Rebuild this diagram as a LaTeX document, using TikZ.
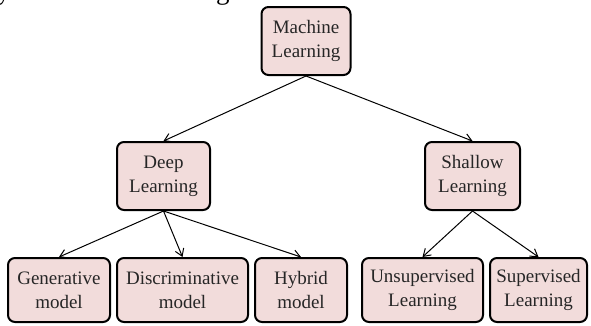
\documentclass[tikz,border=0pt]{standalone}
\usepackage{fontspec}
\setmainfont{Liberation Serif}
\usetikzlibrary{arrows.meta}
\definecolor{boxpink}{RGB}{242,220,219}

\begin{document}
\begin{tikzpicture}[line cap=round,line join=round,x=1pt,y=-1pt,
  mlbox/.style={draw=black,line width=2pt,fill=boxpink,rounded corners=7pt,
    align=center,inner sep=0pt,minimum height=68pt,
    font=\fontsize{19}{24}\selectfont,text=black!85},
  leafbox/.style={mlbox,minimum height=64pt},
  link/.style={line width=1pt,-{Straight Barb[length=7pt,width=9pt,line width=1pt]}}]
\useasboundingbox (0,0) rectangle (591,325);
\clip (0,0) rectangle (591,325);
\node[anchor=base west,inner sep=0pt,font=\fontsize{27}{32}\selectfont] (caption) at (-3,-1) {yers. As shown in figure 3.};
% tree boxes
\node[mlbox,minimum width=89pt] (ml) at (306,41) {Machine\\Learning};
\node[mlbox,minimum width=93pt] (deep) at (163.5,176) {Deep\\Learning};
\node[mlbox,minimum width=95pt] (shallow) at (472.5,176) {Shallow\\Learning};
\node[leafbox,minimum width=102pt] (gen) at (59,290) {Generative\\model};
\node[leafbox,minimum width=131pt] (disc) at (182.5,290) {Discriminative\\model};
\node[leafbox,minimum width=92pt] (hyb) at (301,290) {Hybrid\\model};
\node[leafbox,minimum width=121pt] (unsup) at (422.5,290) {Unsupervised\\Learning};
\node[leafbox,minimum width=97pt] (sup) at (538.5,290) {Supervised\\Learning};
% arrows
\draw[link] (ml.south) -- (deep.north);
\draw[link] (ml.south) -- (shallow.north);
\draw[link] (deep.south) -- (gen.north);
\draw[link] (deep.south) -- (disc.north);
\draw[link] (deep.south) -- (hyb.north);
\draw[link] (shallow.south) -- (unsup.north);
\draw[link] (shallow.south) -- (sup.north);
\end{tikzpicture}
\end{document}
